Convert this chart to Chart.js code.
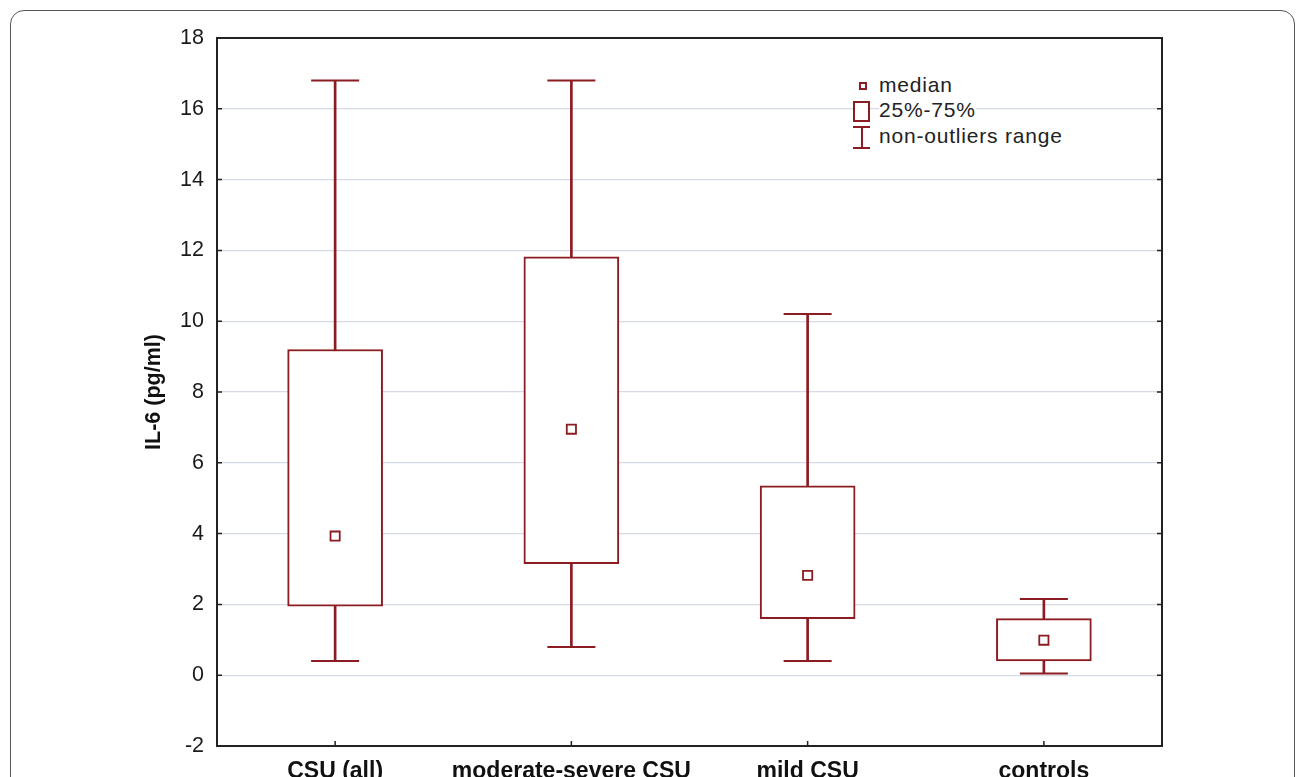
<!DOCTYPE html>
<html>
<head>
<meta charset="utf-8">
<title>IL-6 box plot</title>
<script src="https://cdn.jsdelivr.net/npm/chart.js@4.4.1/dist/chart.umd.min.js"></script>
<style>
    html, body { margin: 0; padding: 0; background: #fff; overflow: hidden; }
    #wrap { position: relative; width: 1296px; height: 777px; overflow: hidden; }
    #chart { position: absolute; left: 0; top: 0; }
    #frame {
        position: absolute; left: 10px; top: 10px; width: 1285px; height: 900px;
        box-sizing: border-box; border: 1.5px solid #555; border-radius: 14px; pointer-events: none;
    }
    .legend-row { position: absolute; left: 879px; font: 21px "Liberation Sans", Arial, sans-serif;
        letter-spacing: 0.8px; line-height: 24px; color: #222; background: #fff; white-space: nowrap; }
    .sym { position: absolute; box-sizing: border-box; background: #fff; }
    .sym-median { left: 859px; top: 82px; width: 8px; height: 8px; border: 2px solid #8b1c22; }
    .sym-box { left: 853px; top: 101px; width: 17px; height: 21px; border: 2px solid #8b1c22; }
    .sym-line { position: absolute; background: #8b1c22; }
</style>
</head>
<body>
<div id="wrap">
    <canvas id="chart" width="1296" height="800"></canvas>
    <div id="frame"></div>
    <div class="sym sym-median"></div>
    <div class="legend-row" style="top:73px">median</div>
    <div class="sym sym-box"></div>
    <div class="legend-row" style="top:98px">25%-75%</div>
    <div class="sym-line" style="left:853px; top:126px; width:17px; height:2px"></div>
    <div class="sym-line" style="left:860.5px; top:126px; width:2px; height:23px"></div>
    <div class="sym-line" style="left:853px; top:147px; width:17px; height:2px"></div>
    <div class="legend-row" style="top:124px">non-outliers range</div>
</div>
<script>
// groups and values (pg/ml)
const groups = ['CSU (all)', 'moderate-severe CSU', 'mild CSU', 'controls'];
const whiskerMin = [0.4, 0.8, 0.4, 0.05];
const q1 = [1.95, 3.15, 1.6, 0.4];
const medians = [3.93, 6.95, 2.82, 0.99];
const q3 = [9.2, 11.82, 5.35, 1.6];
const whiskerMax = [16.8, 16.8, 10.2, 2.15];
const yTicks = [-2, 0, 2, 4, 6, 8, 10, 12, 14, 16, 18];

const darkRed = '#8b1c22';
const fontFamily = '"Liberation Sans", Arial, sans-serif';

// frame round the plot area plus the small inward ticks
const framePlugin = {
    id: 'plotFrame',
    afterDraw(chart) {
        const { ctx, chartArea: a, scales } = chart;
        ctx.save();
        ctx.strokeStyle = '#222';
        ctx.lineWidth = 1.5;
        ctx.beginPath();
        scales.y.ticks.forEach(t => {
            const y = scales.y.getPixelForValue(t.value);
            ctx.moveTo(a.left, y); ctx.lineTo(a.left + 5, y);
            ctx.moveTo(a.right, y); ctx.lineTo(a.right - 5, y);
        });
        groups.forEach((g, i) => {
            const x = scales.x.getPixelForValue(i);
            ctx.moveTo(x, a.bottom); ctx.lineTo(x, a.bottom - 5);
        });
        ctx.stroke();
        ctx.lineWidth = 2;
        ctx.strokeRect(a.left, a.top, a.right - a.left, a.bottom - a.top);
        ctx.restore();
    }
};

const whiskerRanges = groups.map((g, i) => [whiskerMin[i], whiskerMax[i]]);
const boxRanges = groups.map((g, i) => [q1[i], q3[i]]);

new Chart(document.getElementById('chart'), {
    type: 'bar',
    data: {
        labels: groups,
        datasets: [
            {
                type: 'bar',
                data: whiskerRanges,
                backgroundColor: darkRed,
                borderWidth: 0,
                barThickness: 2,
                grouped: false,
                order: 4
            },
            {
                type: 'bar',
                data: boxRanges,
                backgroundColor: '#fff',
                borderColor: darkRed,
                borderWidth: 2,
                borderSkipped: false,
                barThickness: 95,
                grouped: false,
                order: 3
            },
            {
                type: 'line',
                data: whiskerMax,
                showLine: false,
                pointStyle: 'line',
                pointRadius: 24,
                borderColor: darkRed,
                borderWidth: 2,
                order: 2
            },
            {
                type: 'line',
                data: whiskerMin,
                showLine: false,
                pointStyle: 'line',
                pointRadius: 24,
                borderColor: darkRed,
                borderWidth: 2,
                order: 2
            },
            {
                type: 'line',
                data: medians,
                showLine: false,
                pointStyle: 'rect',
                pointRadius: 6.5,
                backgroundColor: '#fff',
                borderColor: darkRed,
                borderWidth: 1.8,
                order: 1
            }
        ]
    },
    options: {
        responsive: false,
        animation: false,
        layout: { padding: { left: 0, top: 38, right: 134, bottom: 0 } },
        plugins: {
            legend: { display: false },
            tooltip: { enabled: false }
        },
        scales: {
            x: {
                offset: true,
                grid: { display: false, drawTicks: false },
                border: { display: false },
                ticks: {
                    color: '#111',
                    padding: 12,
                    autoSkip: false,
                    maxRotation: 0,
                    minRotation: 0,
                    font: { family: fontFamily, size: 23, weight: 'bold' }
                },
                afterFit(scale) { scale.height = 54; }
            },
            y: {
                min: -2,
                max: 18,
                afterBuildTicks(scale) { scale.ticks = yTicks.map(v => ({ value: v })); },
                grid: { color: '#d6d9e6', lineWidth: 1.2, drawTicks: false },
                border: { display: false },
                ticks: {
                    color: '#1a1a1a',
                    padding: 13,
                    font: { family: fontFamily, size: 21.5 }
                },
                title: {
                    display: true,
                    text: 'IL-6 (pg/ml)',
                    color: '#111',
                    padding: { top: 141, bottom: 0 },
                    font: { family: fontFamily, size: 21.5, weight: 'bold' }
                },
                afterFit(scale) { scale.width = 217; }
            }
        }
    },
    plugins: [framePlugin]
});
</script>
</body>
</html>
